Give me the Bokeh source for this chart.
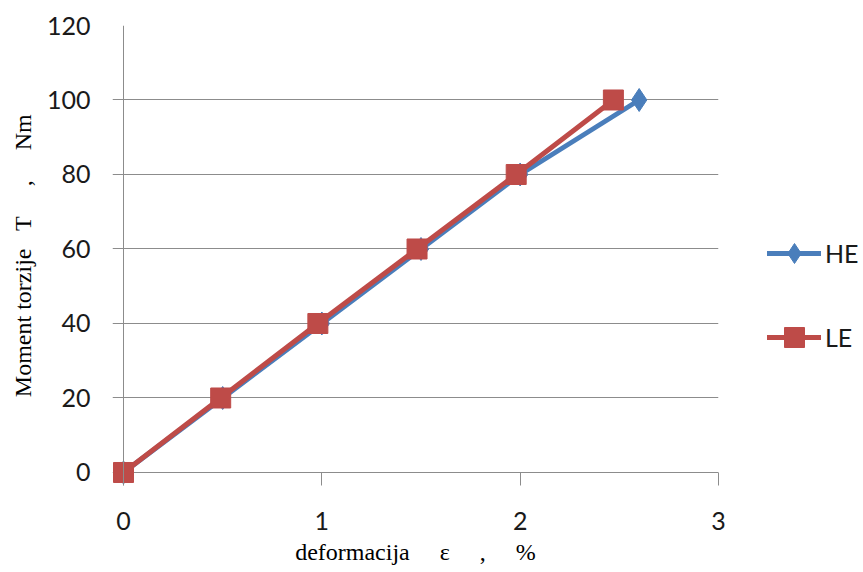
from bokeh.plotting import figure
from bokeh.models import (ColumnDataSource, Range1d, FixedTicker, Span,
                          Legend, LegendItem)
from bokeh.embed import file_html
from bokeh.resources import INLINE

# ---- data ----
strain_he = [0.0, 0.5, 1.0, 1.5, 2.0, 2.6]
torque_he = [0, 20, 40, 60, 80, 100]
strain_le = [0.0, 0.49, 0.98, 1.48, 1.98, 2.47]
torque_le = [0, 20, 40, 60, 80, 100]
x_ticks = [0, 1, 2, 3]
y_ticks = [0, 20, 40, 60, 80, 100, 120]
series_names = ["HE", "LE"]
x_title = "deformacija\u2003 ε\u2003 ,\u2003 %"
y_title = "Moment torzije\u2002 T\u2003 ,\u2003 Nm"

BLUE = "#4A7EBB"
RED = "#BE4B48"
GRID = "#8C8C8C"
TICK_FONT = "Lato"
SERIF = "Liberation Serif"

p = figure(frame_width=606, frame_height=460, output_backend="svg",
           toolbar_location=None,
           x_range=Range1d(-0.0555, 3), y_range=Range1d(-3.49, 120),
           min_border_left=112, min_border_right=145,
           min_border_top=25, min_border_bottom=87)
p.outline_line_color = None
p.background_fill_color = "white"
p.border_fill_color = "white"

# grid
p.xgrid.visible = False
p.ygrid.ticker = FixedTicker(ticks=y_ticks)
p.ygrid.grid_line_color = GRID
p.ygrid.grid_line_width = 1

# axes
p.xaxis.ticker = FixedTicker(ticks=x_ticks)
p.yaxis.ticker = FixedTicker(ticks=y_ticks)
p.xaxis.axis_line_color = None
p.yaxis.axis_line_color = None
p.yaxis.major_tick_line_color = None
p.yaxis.minor_tick_line_color = None
p.xaxis.minor_tick_line_color = None
p.xaxis.major_tick_in = 13
p.xaxis.major_tick_out = 0
p.xaxis.major_tick_line_color = GRID
p.xaxis.major_tick_line_width = 1
p.yaxis.major_tick_in = 0
p.yaxis.major_tick_out = 0
for ax in (p.xaxis[0], p.yaxis[0]):
    ax.major_label_text_font = TICK_FONT
    ax.major_label_text_font_size = "25px"
    ax.major_label_text_color = "#1A1A1A"
    ax.axis_label_text_font = SERIF
    ax.axis_label_text_font_size = "24px"
    ax.axis_label_text_font_style = "normal"
    ax.axis_label_text_color = "black"
p.xaxis.major_label_standoff = 26
p.yaxis.major_label_standoff = 22
p.xaxis.axis_label = x_title
p.yaxis.axis_label = y_title
p.xaxis.axis_label_standoff = 6
p.yaxis.axis_label_standoff = 8

# vertical axis line at x = 0
p.add_layout(Span(location=0, dimension="height", line_color=GRID, line_width=1))

# series
src_he = ColumnDataSource(dict(x=strain_he, y=torque_he))
src_le = ColumnDataSource(dict(x=strain_le, y=torque_le))

l_he = p.line("x", "y", source=src_he, line_color=BLUE, line_width=5,
              line_join="round", line_cap="round")
m_he = p.scatter("x", "y", source=src_he, marker="diamond", size=23,
                 fill_color=BLUE, line_color=BLUE)
l_le = p.line("x", "y", source=src_le, line_color=RED, line_width=5,
              line_join="round", line_cap="round")
m_le = p.scatter("x", "y", source=src_le, marker="square", size=20,
                 fill_color=RED, line_color=RED)

legend = Legend(items=[LegendItem(label=series_names[0], renderers=[l_he, m_he]),
                       LegendItem(label=series_names[1], renderers=[l_le, m_le])],
                location=(49, 123), orientation="vertical",
                glyph_width=54, glyph_height=50, label_height=50,
                label_standoff=4, spacing=34, padding=0, margin=0,
                border_line_color=None, background_fill_alpha=0,
                label_text_font=TICK_FONT, label_text_font_size="25px",
                label_text_color="#1A1A1A")
p.add_layout(legend, "right")

open("out.html", "w").write(file_html(p, INLINE))
